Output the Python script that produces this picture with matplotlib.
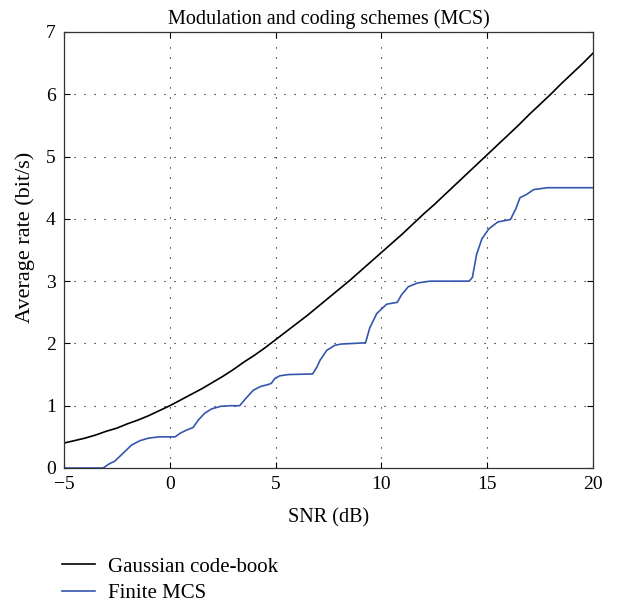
import matplotlib
matplotlib.use("Agg")
import matplotlib.pyplot as plt

plt.rcParams['font.family'] = ['Liberation Serif', 'DejaVu Serif']
plt.rcParams['lines.scale_dashes'] = False

# Gaussian code-book (read at 0.5 dB steps)
snr_gauss = [-5, -4.5, -4, -3.5, -3, -2.5, -2, -1.5, -1, -0.5, 0, 0.5, 1, 1.5,
             2, 2.5, 3, 3.5, 4, 4.5, 5, 5.5, 6, 6.5, 7, 7.5, 8, 8.5, 9, 9.5,
             10, 10.5, 11, 11.5, 12, 12.5, 13, 13.5, 14, 14.5, 15, 15.5, 16,
             16.5, 17, 17.5, 18, 18.5, 19, 19.5, 20]
rate_gauss = [0.40, 0.44, 0.48, 0.53, 0.59, 0.64, 0.71, 0.77, 0.84, 0.92, 1.00,
              1.09, 1.18, 1.27, 1.37, 1.47, 1.58, 1.70, 1.81, 1.93, 2.06, 2.19,
              2.32, 2.45, 2.59, 2.73, 2.87, 3.01, 3.16, 3.31, 3.46, 3.61, 3.76,
              3.92, 4.08, 4.23, 4.39, 4.55, 4.71, 4.87, 5.03, 5.19, 5.35, 5.51,
              5.68, 5.84, 6.00, 6.17, 6.33, 6.49, 6.66]

# Finite MCS
snr_mcs = [-5, -3.15, -2.85, -2.6, -2.2, -1.8, -1.4, -1.0, -0.5, 0.25, 0.5, 0.8,
           1.1, 1.35, 1.65, 1.98, 2.4, 2.85, 3.3, 3.6, 3.95, 4.3, 4.65, 4.8,
           4.97, 5.2, 5.6, 6.75, 6.95, 7.1, 7.42, 7.8, 8.1, 9.25, 9.45, 9.78,
           10.25, 10.75, 10.95, 11.27, 11.7, 12.3, 14.15, 14.3, 14.5, 14.75,
           15.08, 15.5, 16.1, 16.35, 16.55, 16.85, 17.2, 17.85, 20]
rate_mcs = [0.0, 0.0, 0.07, 0.11, 0.24, 0.37, 0.44, 0.48, 0.50, 0.50, 0.56, 0.61,
            0.65, 0.77, 0.88, 0.95, 0.99, 1.0, 1.0, 1.12, 1.25, 1.31, 1.34, 1.36,
            1.44, 1.48, 1.50, 1.51, 1.62, 1.73, 1.89, 1.97, 1.99, 2.01, 2.25, 2.48,
            2.63, 2.66, 2.78, 2.91, 2.97, 3.0, 3.0, 3.06, 3.43, 3.68,
            3.84, 3.95, 3.99, 4.16, 4.34, 4.39, 4.47, 4.50, 4.50]

xticks = [-5, 0, 5, 10, 15, 20]
yticks = [0, 1, 2, 3, 4, 5, 6, 7]

fig = plt.figure(figsize=(6.21, 6.05), dpi=100)
ax = fig.add_axes([64/621, 1 - 468/605, (593-64)/621, (468-32)/605])

ax.plot(snr_gauss, rate_gauss, color='black', lw=1.2, label='Gaussian code-book',
        solid_joinstyle='round')
ax.plot(snr_mcs, rate_mcs, color='#3456ad', lw=1.2, label='Finite MCS',
        solid_joinstyle='round')

ax.set_xlim(-5, 20)
ax.set_ylim(0, 7)
ax.set_xticks(xticks)
ax.set_yticks(yticks)
ax.grid(True, color='black', linestyle=(0, (0.8, 6.4)), linewidth=0.8)
ax.tick_params(direction='in', top=True, right=True, length=4, width=0.8,
               labelsize=14, pad=6)
for s in ax.spines.values():
    s.set_linewidth(0.9)
    s.set_color('#333333')

ax.set_title('Modulation and coding schemes (MCS)', fontsize=14.5, pad=6)
ax.set_xlabel('SNR (dB)', fontsize=14.5, labelpad=11)
ax.set_ylabel('Average rate (bit/s)', fontsize=16)
ax.yaxis.set_label_coords(-0.055, 0.53)

fig.legend(loc='upper left', bbox_to_anchor=(62/621, 1 - 557/605), frameon=False,
           fontsize=15, handlelength=1.6, handletextpad=0.62, labelspacing=0.35,
           borderpad=0, borderaxespad=0)

fig.savefig('out.png', dpi=100)
